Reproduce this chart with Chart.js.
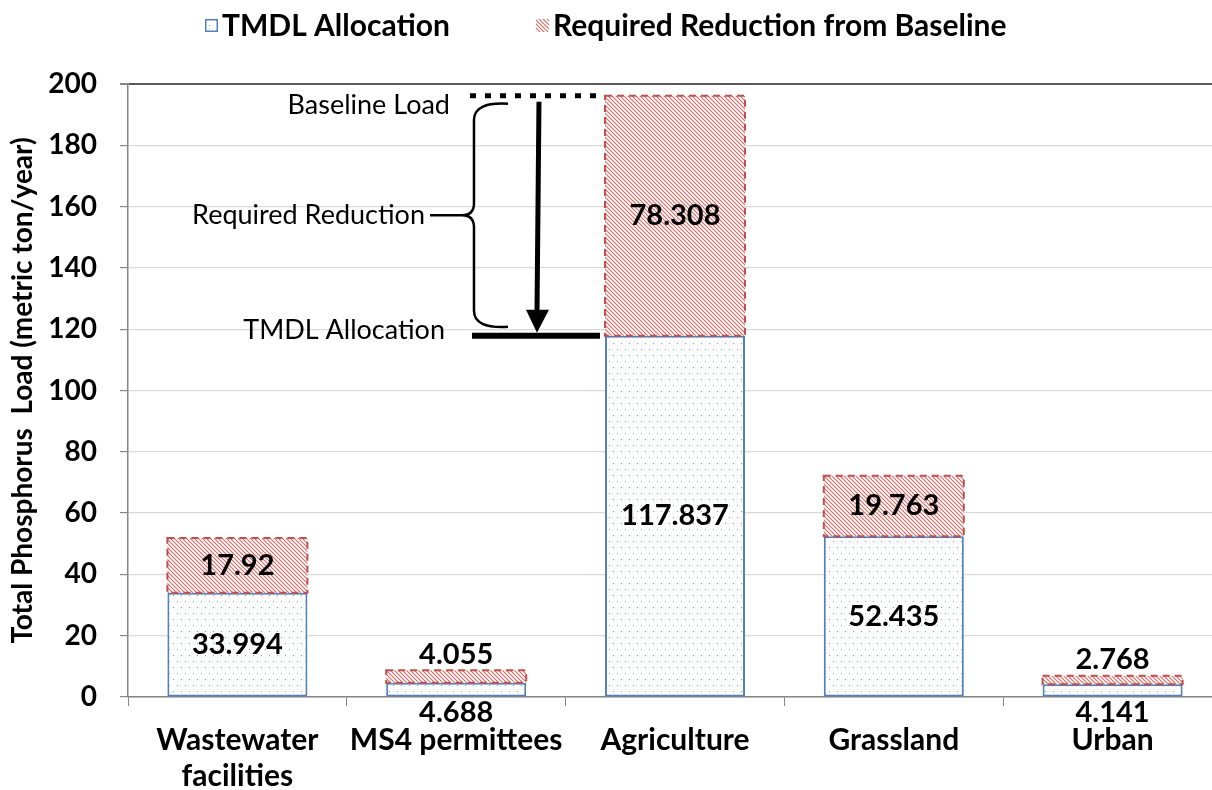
<!DOCTYPE html>
<html>
<head>
<meta charset="utf-8">
<script src="https://cdn.jsdelivr.net/npm/chart.js@4.4.1/dist/chart.umd.min.js"></script>
<style>
  html, body { margin: 0; padding: 0; background: #fff; overflow: hidden; }
  #wrap { width: 1224px; height: 790px; position: relative; }
</style>
</head>
<body>
<div id="wrap"><canvas id="chart"></canvas></div>
<script>
// chart data
const categories = [['Wastewater', 'facilities'], 'MS4 permittees', 'Agriculture', 'Grassland', 'Urban'];
const tmdlAllocation = [33.994, 4.688, 117.837, 52.435, 4.141];
const requiredReduction = [17.92, 4.055, 78.308, 19.763, 2.768];
const yTicks = [0, 20, 40, 60, 80, 100, 120, 140, 160, 180, 200];

const FONT = 'Lato, "Open Sans", sans-serif';
const BLUE = '#4f81bd';
const RED = '#c0504d';

// fill patterns
function dotPattern() {
    const c = document.createElement('canvas');
    c.width = 8; c.height = 12;
    const g = c.getContext('2d');
    g.fillStyle = '#fff';
    g.fillRect(0, 0, 8, 12);
    g.fillStyle = '#6f9ee0';
    g.fillRect(1, 1, 1, 1);
    g.fillRect(5, 7, 1, 1);
    return g.createPattern(c, 'repeat');
}

function hatchPattern() {
    const c = document.createElement('canvas');
    c.width = 4; c.height = 4;
    const g = c.getContext('2d');
    g.fillStyle = '#fff';
    g.fillRect(0, 0, 4, 4);
    g.strokeStyle = '#d46a67';
    g.lineWidth = 1.1;
    g.beginPath();
    g.moveTo(-1, -1); g.lineTo(5, 5);
    g.moveTo(-1, 3); g.lineTo(1, 5);
    g.moveTo(3, -1); g.lineTo(5, 1);
    g.stroke();
    return g.createPattern(c, 'repeat');
}

const dots = dotPattern();
const hatch = hatchPattern();

// dashed red outline, value labels, legend and the callout drawing
const decorations = {
    id: 'decorations',
    afterDatasetsDraw(chart) {
        const ctx = chart.ctx;
        const yScale = chart.scales.y;
        const base = chart.getDatasetMeta(0).data;
        const top = chart.getDatasetMeta(1).data;

        ctx.save();
        // dashed outline for reduction segments
        ctx.strokeStyle = RED;
        ctx.lineWidth = 2;
        ctx.setLineDash([7, 5]);
        top.forEach(bar => {
            ctx.strokeRect(bar.x - bar.width / 2, bar.y, bar.width, bar.base - bar.y);
        });
        ctx.setLineDash([]);

        // value labels
        ctx.fillStyle = '#000';
        ctx.font = 'bold 29px ' + FONT;
        ctx.textAlign = 'center';
        ctx.textBaseline = 'middle';
        base.forEach((bar, i) => {
            const h = bar.base - bar.y;
            const y = h > 30 ? (bar.y + bar.base) / 2 : bar.base + 16;
            ctx.fillText(String(tmdlAllocation[i]), bar.x, y);
        });
        top.forEach((bar, i) => {
            const h = bar.base - bar.y;
            const y = h > 30 ? (bar.y + bar.base) / 2 : bar.y - 16;
            ctx.fillText(String(requiredReduction[i]), bar.x, y);
        });

        // callout beside the agriculture bar
        const ag = top[2];
        const left = ag.x - ag.width / 2;
        const yBase = yScale.getPixelForValue(tmdlAllocation[2] + requiredReduction[2]);
        const yAlloc = yScale.getPixelForValue(tmdlAllocation[2]);

        ctx.strokeStyle = '#000';
        ctx.lineWidth = 5;
        ctx.setLineDash([6, 9]);
        ctx.beginPath();
        ctx.moveTo(left - 135, yBase);
        ctx.lineTo(left - 3, yBase);
        ctx.stroke();
        ctx.setLineDash([]);

        ctx.lineWidth = 6;
        ctx.beginPath();
        ctx.moveTo(left - 133, yAlloc);
        ctx.lineTo(left - 5, yAlloc);
        ctx.stroke();

        // arrow
        const ax = left - 66;
        ctx.lineWidth = 5;
        ctx.beginPath();
        ctx.moveTo(ax, yBase + 6);
        ctx.lineTo(ax - 2, yAlloc - 22);
        ctx.stroke();
        ctx.beginPath();
        ctx.moveTo(ax - 13, yAlloc - 26);
        ctx.lineTo(ax + 10, yAlloc - 26);
        ctx.lineTo(ax - 2, yAlloc - 3);
        ctx.closePath();
        ctx.fill();

        // brace
        const bR = left - 97, bM = left - 131, bT = left - 143;
        const t = yBase + 8, b = yAlloc - 9, m = (t + b) / 2;
        ctx.lineWidth = 2.5;
        ctx.beginPath();
        ctx.moveTo(bR, t);
        ctx.quadraticCurveTo(bM, t - 2, bM, t + 16);
        ctx.lineTo(bM, m - 12);
        ctx.quadraticCurveTo(bM, m, bT, m);
        ctx.quadraticCurveTo(bM, m, bM, m + 12);
        ctx.lineTo(bM, b - 16);
        ctx.quadraticCurveTo(bM, b + 2, bR, b);
        ctx.stroke();
        ctx.beginPath();
        ctx.moveTo(bT - 32, m);
        ctx.lineTo(bT, m);
        ctx.stroke();

        ctx.font = '27px ' + FONT;
        ctx.textAlign = 'right';
        ctx.fillText('Baseline Load', left - 155, yBase + 9);
        ctx.fillText('Required Reduction', bT - 37, m);
        ctx.fillText('TMDL Allocation', left - 160, yAlloc - 6);
        ctx.restore();
    },
    afterDraw(chart) {
        const ctx = chart.ctx;
        const ds = chart.data.datasets;
        ctx.save();
        ctx.font = 'bold 30px ' + FONT;
        ctx.textBaseline = 'middle';
        ctx.textAlign = 'left';
        const items = [[205, ds[0]], [536, ds[1]]];
        items.forEach(([x, d], i) => {
            ctx.fillStyle = d.backgroundColor;
            ctx.fillRect(x, 19, 13, 13);
            if (i === 0) {
                ctx.strokeStyle = BLUE;
                ctx.lineWidth = 1.5;
                ctx.strokeRect(x + 0.75, 19.75, 11.5, 11.5);
            }
            ctx.fillStyle = '#000';
            ctx.fillText(d.label, x + 17, 26);
        });
        ctx.restore();
    }
};

new Chart(document.getElementById('chart'), {
    type: 'bar',
    data: {
        labels: categories,
        datasets: [
            {
                label: 'TMDL Allocation',
                data: tmdlAllocation,
                backgroundColor: dots,
                borderColor: BLUE,
                borderWidth: 2,
                borderSkipped: false
            },
            {
                label: 'Required Reduction from Baseline',
                data: requiredReduction,
                backgroundColor: hatch,
                borderWidth: 0
            }
        ]
    },
    options: {
        responsive: true,
        maintainAspectRatio: false,
        devicePixelRatio: 1,
        animation: false,
        barPercentage: 0.8,
        categoryPercentage: 0.8,
        layout: { padding: { top: 84, right: 2, left: 0, bottom: 0 } },
        plugins: {
            legend: { display: false },
            tooltip: { enabled: false }
        },
        scales: {
            x: {
                stacked: true,
                afterFit: s => { s.height = 93; },
                grid: { drawOnChartArea: false, offset: true, tickLength: 9, color: '#868686', tickColor: '#868686' },
                border: { color: '#868686', width: 1.5 },
                ticks: {
                    color: '#000',
                    padding: 16,
                    maxRotation: 0,
                    autoSkip: false,
                    font: { family: FONT, size: 30, weight: 'bold', lineHeight: 1.2 }
                }
            },
            y: {
                stacked: true,
                min: 0,
                max: 200,
                afterFit: s => { s.width = 128; },
                afterBuildTicks: s => { s.ticks = yTicks.map(v => ({ value: v })); },
                grid: {
                    color: c => c.tick && c.tick.value === 200 ? '#595959' : '#d9d9d9',
                    lineWidth: c => c.tick && c.tick.value === 200 ? 2 : 1.2,
                    tickColor: '#868686',
                    tickLength: 8
                },
                border: { color: '#868686', width: 1.5 },
                ticks: {
                    color: '#000',
                    padding: 23,
                    font: { family: FONT, size: 28, weight: 'bold' }
                },
                title: {
                    display: true,
                    text: 'Total Phosphorus  Load (metric ton/year)',
                    color: '#000',
                    padding: { top: 6, bottom: 0 },
                    font: { family: FONT, size: 28, weight: 'bold' }
                }
            }
        }
    },
    plugins: [decorations]
});
</script>
</body>
</html>
